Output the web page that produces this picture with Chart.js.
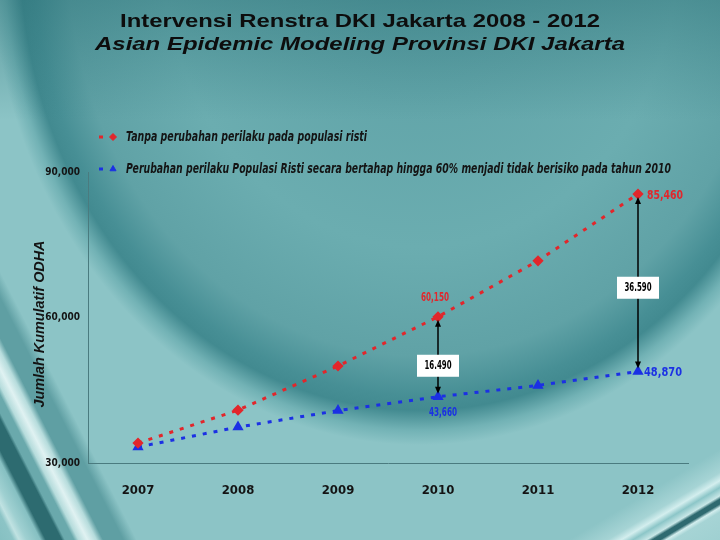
<!DOCTYPE html>
<html>
<head>
<meta charset="utf-8">
<title>Intervensi Renstra DKI Jakarta 2008 - 2012</title>
<script src="https://cdn.jsdelivr.net/npm/chart.js@4.4.0/dist/chart.umd.min.js"></script>
<style>
  html, body { margin: 0; padding: 0; }
  #wrap {
    width: 720px; height: 540px; position: relative; overflow: hidden;
    background:
      linear-gradient(63deg, #86c0c2 0px, #8cc4c6 12px, #c0e2e2 17px, #9fd0d1 24px, #86c0c2 36px, #2d6b70 41px, #2d6b70 55px,
        #6aa9ac 58px, #6aa9ac 66px, #b6dcdc 70px, #e0f2f2 78px, #b6dcdc 86px, #5f9fa3 92px, #5f9fa3 110px, rgba(95,159,163,0) 122px),
      linear-gradient(329deg, #9fd0d1 0px, #a6d4d5 24px, #d3eeee 28px, #2f6a70 31px, #2f6a70 35px, #c8e7e7 38px, #8cc6c8 45px,
        #d3eeee 51px, #a6d4d5 58px, rgba(166,212,213,0) 78px),
      linear-gradient(180deg, rgba(40,110,116,0.45) 0px, rgba(40,110,116,0) 120px),
      radial-gradient(ellipse 430px 495px at 420px -50px, #5a9ea3 0%, #6badb0 60%, #60a2a6 82%, #478f95 90%, #428a90 93%, #72b2b5 97%, #8cc4c6 100%);
  }
  canvas { display: block; }
</style>
</head>
<body>
<div id="wrap"><canvas id="c" width="720" height="540"></canvas></div>
<script>
(function () {
    'use strict';

    // Data ---------------------------------------------------------------
    const years = ['2007', '2008', '2009', '2010', '2011', '2012'];
    const tanpaPerubahan = [34100, 40900, 50000, 60150, 71700, 85460];
    const denganPerubahan = [33300, 37400, 40800, 43660, 46000, 48870];
    const seriesNames = [
        'Tanpa perubahan perilaku pada populasi risti',
        'Perubahan perilaku Populasi Risti secara bertahap hingga 60% menjadi tidak berisiko pada tahun 2010',
    ];
    const yTicks = [30000, 60000, 90000];
    const labelledYears = ['2010', '2012'];   // points with value labels + gap arrows
    const titleText = 'Intervensi Renstra DKI Jakarta 2008 - 2012';
    const subtitleText = 'Asian Epidemic Modeling Provinsi DKI Jakarta';
    const yTitle = 'Jumlah Kumulatif ODHA';

    const RED = '#e2262b';
    const BLUE = '#1b30e4';
    const AXIS = '#4a7b7f';
    const NARROW = '"DejaVu Sans Condensed", "DejaVu Sans", sans-serif';
    const SANS = '"Liberation Sans", Arial, sans-serif';

    // draw text squeezed/stretched to an exact width
    const fitText = (ctx, text, x, y, width, align) => {
        const w = ctx.measureText(text).width;
        ctx.save();
        ctx.translate(x, y);
        ctx.scale(width / w, 1);
        ctx.textAlign = align;
        ctx.fillText(text, 0, 0);
        ctx.restore();
    };

    const decor = {
        id: 'decor',
        afterDraw(chart) {
            const ctx = chart.ctx;
            ctx.save();
            ctx.fillStyle = '#0d0d0d';
            ctx.textBaseline = 'alphabetic';
            ctx.font = 'bold 19px ' + SANS;
            fitText(ctx, titleText, 360, 27, 480, 'center');
            ctx.font = 'bold italic 19px ' + SANS;
            fitText(ctx, subtitleText, 360, 50, 530, 'center');

            // y axis title
            ctx.font = 'bold italic 15px ' + SANS;
            ctx.textBaseline = 'middle';
            ctx.fillStyle = '#141414';
            ctx.save();
            ctx.translate(40, 324);
            ctx.rotate(-Math.PI / 2);
            fitText(ctx, yTitle, 0, 0, 167, 'center');
            ctx.restore();

            // legend
            const rows = [137, 169];
            const widths = [241, 545];
            chart.data.datasets.forEach((ds, i) => {
                const y = rows[i];
                ctx.fillStyle = ds.borderColor;
                ctx.strokeStyle = ds.borderColor;
                ctx.fillRect(99, y - 1.5, 4, 3);
                Chart.helpers.drawPoint(ctx, { pointStyle: ds.pointStyle, radius: 3.5, borderWidth: 1 }, 113, y);
                ctx.fillStyle = '#141414';
                ctx.font = 'bold italic 14px ' + NARROW;
                fitText(ctx, ds.label, 126, y, widths[i], 'left');
            });

            // value labels and gap arrows
            const red = chart.getDatasetMeta(0).data;
            const blue = chart.getDatasetMeta(1).data;
            ctx.font = 'bold 13px ' + NARROW;
            ctx.textBaseline = 'middle';
            labelledYears.forEach((yr) => {
                const k = years.indexOf(yr);
                const r = red[k], b = blue[k];
                const last = k === years.length - 1;
                ctx.fillStyle = RED;
                if (last) fitText(ctx, tanpaPerubahan[k].toLocaleString('en-US'), r.x + 9, r.y + 2, 36, 'left');
                else fitText(ctx, tanpaPerubahan[k].toLocaleString('en-US'), r.x - 3, r.y - 19, 28, 'center');
                ctx.fillStyle = BLUE;
                if (last) fitText(ctx, denganPerubahan[k].toLocaleString('en-US'), b.x + 6, b.y + 1, 38, 'left');
                else fitText(ctx, denganPerubahan[k].toLocaleString('en-US'), b.x + 5, b.y + 16, 28, 'center');

                // double-headed arrow
                const top = r.y + 3, bot = b.y - 3, x = r.x;
                ctx.strokeStyle = '#000';
                ctx.fillStyle = '#000';
                ctx.lineWidth = 1.5;
                ctx.beginPath();
                ctx.moveTo(x, top + 5);
                ctx.lineTo(x, bot - 5);
                ctx.stroke();
                [[top, 1], [bot, -1]].forEach(([ty, d]) => {
                    ctx.beginPath();
                    ctx.moveTo(x, ty);
                    ctx.lineTo(x - 3, ty + 7 * d);
                    ctx.lineTo(x + 3, ty + 7 * d);
                    ctx.closePath();
                    ctx.fill();
                });

                // boxed difference
                const gap = (tanpaPerubahan[k] - denganPerubahan[k]).toLocaleString('de-DE');
                const cy = (r.y + b.y) / 2 + (last ? 5 : 9);
                ctx.fillStyle = '#fff';
                ctx.fillRect(x - 21, cy - 11, 42, 22);
                ctx.fillStyle = '#000';
                fitText(ctx, gap, x, cy, 27, 'center');
            });
            ctx.restore();
        },
    };

    const lineStyle = (color, style) => ({
        borderColor: color,
        backgroundColor: color,
        pointBackgroundColor: color,
        pointBorderColor: color,
        borderWidth: 3,
        borderDash: [4, 7],
        borderCapStyle: 'butt',
        pointStyle: style,
        pointRadius: 3.5,
        tension: 0,
        fill: false,
    });

    new Chart(document.getElementById('c'), {
        type: 'line',
        data: {
            labels: years,
            datasets: [
                Object.assign({ label: seriesNames[0], data: tanpaPerubahan }, lineStyle(RED, 'rectRot')),
                Object.assign({ label: seriesNames[1], data: denganPerubahan }, lineStyle(BLUE, 'triangle')),
            ],
        },
        options: {
            responsive: false,
            animation: false,
            events: [],
            layout: { padding: { top: 172, right: 32, left: 0, bottom: 0 } },
            plugins: { legend: { display: false }, tooltip: { enabled: false } },
            scales: {
                x: {
                    offset: true,
                    grid: { display: false, drawTicks: false },
                    border: { display: true, color: AXIS, width: 1 },
                    ticks: { color: '#141414', padding: 20, font: { family: NARROW, weight: 'bold', size: 13 } },
                    afterFit: (s) => { s.height = 77; },
                },
                y: {
                    min: yTicks[0],
                    max: yTicks[yTicks.length - 1],
                    afterBuildTicks: (s) => { s.ticks = yTicks.map(v => ({ value: v })); },
                    grid: { display: false, drawTicks: false },
                    border: { display: true, color: AXIS, width: 1 },
                    ticks: {
                        color: '#141414', padding: 8,
                        font: { family: NARROW, weight: 'bold', size: 10 },
                        callback: (v) => v.toLocaleString('en-US'),
                    },
                    afterFit: (s) => { s.width = 88; },
                },
            },
        },
        plugins: [decor],
    });
})();
</script>
</body>
</html>
